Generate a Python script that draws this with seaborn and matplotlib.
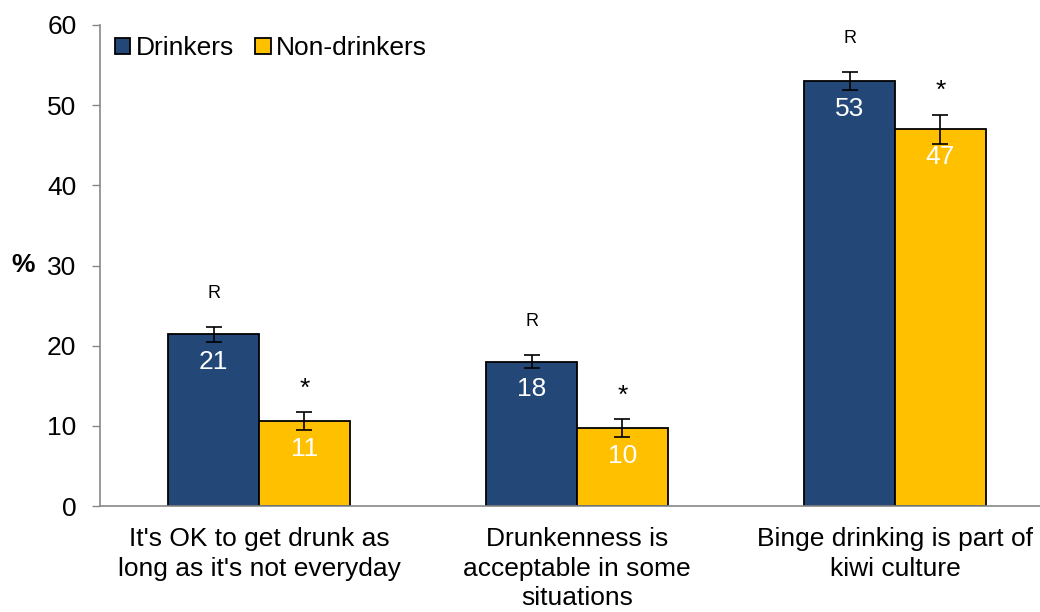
import numpy as np
import pandas as pd
import matplotlib
matplotlib.use("Agg")
import matplotlib.pyplot as plt
import seaborn as sns

# Survey statements (x categories)
statements = [
    "It's OK to get drunk as\nlong as it's not everyday",
    "Drunkenness is\nacceptable in some\nsituations",
    "Binge drinking is part of\nkiwi culture",
]
groups = ["Drinkers", "Non-drinkers"]

# Percentage agreeing, with 95% confidence half-widths
drinkers = [21.4, 18.0, 53.0]
non_drinkers = [10.6, 9.7, 47.0]
drinkers_ci = [0.9, 0.8, 1.1]
non_drinkers_ci = [1.1, 1.1, 1.8]

# Significance markers drawn above each bar
drinkers_flag = ["R", "R", "R"]
non_drinkers_flag = ["*", "*", "*"]

y_ticks = [0, 10, 20, 30, 40, 50, 60]

colors = {"Drinkers": "#234878", "Non-drinkers": "#FFC000"}

sns.set_style("white")
plt.rcParams["font.family"] = ["Liberation Sans", "DejaVu Sans"]
plt.rcParams["text.color"] = "black"
plt.rcParams["axes.labelcolor"] = "black"
plt.rcParams["xtick.labelcolor"] = "black"
plt.rcParams["ytick.labelcolor"] = "black"

df = pd.DataFrame({
    "statement": statements * 2,
    "group": [groups[0]] * 3 + [groups[1]] * 3,
    "pct": drinkers + non_drinkers,
})

fig = plt.figure(figsize=(10.4, 6.12), dpi=100)
ax = fig.add_axes([100 / 1040, 1 - 506 / 612, 954 / 1040, 481 / 612])

sns.barplot(data=df, x="statement", y="pct", hue="group", order=statements,
            hue_order=groups, palette=colors, width=0.572, errorbar=None,
            edgecolor="black", linewidth=1.3, saturation=1, ax=ax)

ci_sets = [drinkers_ci, non_drinkers_ci]
flag_sets = [drinkers_flag, non_drinkers_flag]
for container, cis, flags in zip(ax.containers, ci_sets, flag_sets):
    for bar, ci, flag in zip(container.patches, cis, flags):
        xc = bar.get_x() + bar.get_width() / 2
        h = bar.get_height()
        ax.errorbar(xc, h, yerr=ci, fmt="none", ecolor="black",
                    elinewidth=1.2, capsize=6, capthick=1.2, zorder=5)
        ax.annotate(f"{h:.0f}", (xc, h), xytext=(0, -20),
                    textcoords="offset points", ha="center", va="center",
                    color="white", fontsize=19)
        if flag == "R":
            ax.annotate(flag, (xc, h + ci), xytext=(0, 24),
                        textcoords="offset points", ha="center",
                        va="center", fontsize=13, color="black")
        else:
            ax.annotate(flag, (xc, h + ci), xytext=(0, 17),
                        textcoords="offset points", ha="center",
                        va="center", fontsize=19, color="black")

ax.set_xlim(-0.5, 2.5)
ax.set_ylim(0, 60)
ax.set_yticks(y_ticks)
ax.set_yticklabels([str(t) for t in y_ticks], fontsize=19)
ax.set_xticks([0, 1, 2])
ax.set_xticklabels(statements, fontsize=19, linespacing=1.3)
ax.set_xticks([-0.5, 0.5, 1.5, 2.5], minor=True)
ax.tick_params(axis="x", which="major", length=0, pad=15)
ax.tick_params(axis="x", which="minor", length=6, width=1, color="#888888",
               direction="out")
ax.tick_params(axis="y", length=6, width=1, color="#888888", direction="out",
               pad=11, left=True)
ax.set_xlabel("")
ax.set_ylabel("%", fontsize=19, fontweight="bold", rotation=0, labelpad=17,
              va="center")

for side in ["top", "right"]:
    ax.spines[side].set_visible(False)
for side in ["left", "bottom"]:
    ax.spines[side].set_color("#888888")
    ax.spines[side].set_linewidth(1.2)

handles, labels = ax.get_legend_handles_labels()
ax.legend(handles, labels, loc="upper left", bbox_to_anchor=(-0.004, 1.015),
          ncol=2, frameon=False, fontsize=19, handlelength=0.6,
          handleheight=0.6, handletextpad=0.2, columnspacing=0.8,
          borderaxespad=0.3)

fig.savefig("out.png", dpi=100)
